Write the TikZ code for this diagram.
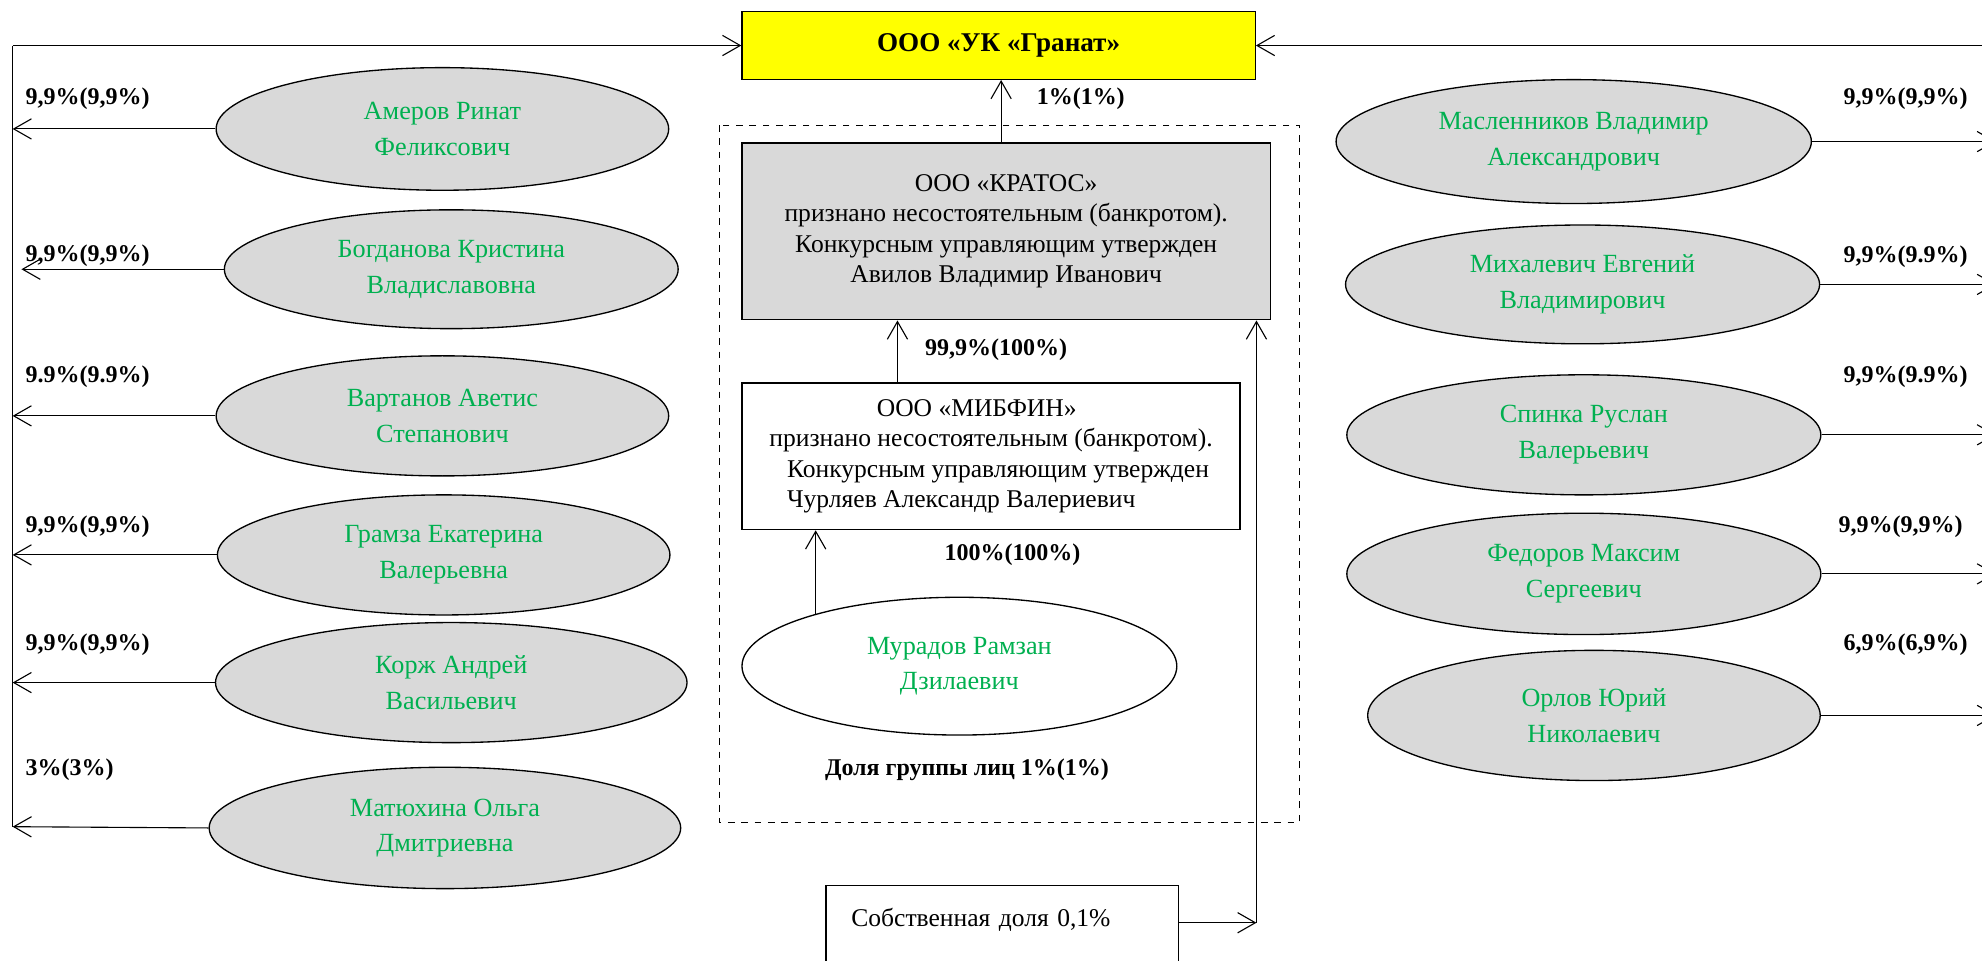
\documentclass[tikz,border=0pt]{standalone}
\usepackage{fontspec}
\setmainfont{Liberation Serif}
\usetikzlibrary{shapes.geometric,arrows.meta}
\definecolor{grgreen}{RGB}{0,176,80}
\definecolor{grgray}{RGB}{217,217,217}
\definecolor{gryellow}{RGB}{255,255,0}
\tikzset{
  person/.style={ellipse, draw, fill=grgray, text=grgreen, align=center, inner sep=0pt,
    line width=0.6pt, font=\fontsize{11.8}{16}\selectfont},
  firm/.style={rectangle, draw, line width=0.6pt, font=\fontsize{11.5}{13.6}\selectfont},
  pct/.style={font=\fontsize{10.8}{13}\selectfont\bfseries, inner sep=0pt},
  arr/.style={-{Straight Barb[length=2.8mm,width=3.2mm]}, line width=0.5pt},
  plain/.style={line width=0.5pt}
}

\begin{document}
\begin{tikzpicture}[x=0.2mm,y=-0.2mm]
        \useasboundingbox (0,0) rectangle (1568,760);
        \clip (0,0) rectangle (1568,760);

        % management company
        \node[firm, fill=gryellow, minimum width=8.12cm, minimum height=1.07cm,
              font=\fontsize{12.2}{14}\selectfont\bfseries] (uk) at (790,36) {ООО «УК «Гранат»};

        \coordinate (tl) at (10,36);
        \coordinate (bl) at (10,654);
        \coordinate (tr) at (1579,36);
        \coordinate (br) at (1579,562);
        \draw[plain] (bl) -- (tl);
        \draw[arr] (tl) -- (uk.west);
        \draw[plain] (br) -- (tr);
        \draw[arr] (tr) -- (uk.east);

        % left shareholders
        \node[person, minimum width=7.16cm, minimum height=1.94cm] (amerov) at (350,102) {Амеров Ринат\\Феликсович};
        \node[person, minimum width=7.18cm, minimum height=1.88cm] (bogdanova) at (357,213) {Богданова Кристина\\Владиславовна};
        \node[person, minimum width=7.16cm, minimum height=1.90cm] (vartanov) at (350,329) {Вартанов Аветис\\Степанович};
        \node[person, minimum width=7.16cm, minimum height=1.90cm] (gramza) at (351,439) {Грамза Екатерина\\Валерьевна};
        \node[person, minimum width=7.46cm, minimum height=1.90cm] (korzh) at (357,540) {Корж Андрей\\Васильевич};
        \node[person, minimum width=7.46cm, minimum height=1.92cm] (matyuhina) at (352,655) {Матюхина Ольга\\Дмитриевна};

        \coordinate (bogtip) at (17,213);
        \draw[arr] (amerov.west) -- (amerov.west -| tl);
        \draw[arr] (bogdanova.west) -- (bogtip);
        \draw[arr] (vartanov.west) -- (vartanov.west -| tl);
        \draw[arr] (gramza.west) -- (gramza.west -| tl);
        \draw[arr] (korzh.west) -- (korzh.west -| tl);
        \draw[arr] (matyuhina.west) -- (bl);

        \node[pct, anchor=west] at (20,78) {9,9\%(9,9\%)};
        \node[pct, anchor=west] at (20,202) {9,9\%(9,9\%)};
        \node[pct, anchor=west] at (20,298) {9.9\%(9.9\%)};
        \node[pct, anchor=west] at (20,417) {9,9\%(9,9\%)};
        \node[pct, anchor=west] at (20,510) {9,9\%(9,9\%)};
        \node[pct, anchor=west] at (20,609) {3\%(3\%)};

        % right shareholders
        \node[person, minimum width=7.52cm, minimum height=1.96cm] (maslennikov) at (1245,112) {Масленников Владимир\\Александрович};
        \node[person, minimum width=7.50cm, minimum height=1.88cm] (mihalevich) at (1252,225) {Михалевич Евгений\\Владимирович};
        \node[person, minimum width=7.50cm, minimum height=1.90cm] (spinka) at (1253,344) {Спинка Руслан\\Валерьевич};
        \node[person, minimum width=7.50cm, minimum height=1.92cm] (fedorov) at (1253,454) {Федоров Максим\\Сергеевич};
        \node[person, minimum width=7.16cm, minimum height=2.06cm] (orlov) at (1261,566) {Орлов Юрий\\Николаевич};

        \draw[arr] (maslennikov.east) -- (maslennikov.east -| tr);
        \draw[arr] (mihalevich.east) -- (mihalevich.east -| tr);
        \draw[arr] (spinka.east) -- (spinka.east -| tr);
        \draw[arr] (fedorov.east) -- (fedorov.east -| tr);
        \draw[arr] (orlov.east) -- (orlov.east -| tr);

        \node[pct, anchor=east] at (1557,78) {9,9\%(9,9\%)};
        \node[pct, anchor=east] at (1557,203) {9,9\%(9.9\%)};
        \node[pct, anchor=east] at (1557,298) {9,9\%(9.9\%)};
        \node[pct, anchor=east] at (1553,417) {9,9\%(9,9\%)};
        \node[pct, anchor=east] at (1557,510) {6,9\%(6,9\%)};

        % group of persons
        \draw[plain, dashed] (569,99) rectangle (1028,651);
        \node[firm, fill=grgray, minimum width=8.36cm, minimum height=2.8cm, align=center] (kratos) at (796,183)
            {ООО «КРАТОС»\\признано несостоятельным (банкротом).\\Конкурсным управляющим утвержден\\Авилов Владимир Иванович};
        \node[firm, fill=white, minimum width=7.88cm, minimum height=2.32cm, align=left] (mibfin) at (784,361)
            {\hspace*{1.7cm}ООО «МИБФИН»\\признано несостоятельным (банкротом).\\\hspace*{0.28cm}Конкурсным управляющим утвержден\\\hspace*{0.28cm}Чурляев Александр Валериевич};
        \node[person, fill=white, minimum width=6.88cm, minimum height=2.18cm] (muradov) at (759,527) {Мурадов Рамзан\\Дзилаевич};
        \node[firm, anchor=north west, minimum width=5.58cm, minimum height=1.8cm, text depth=0.8cm,
              inner xsep=0.4cm, text width=4.78cm, align=left] (own) at (653,700) {Собственная доля 0,1\%};

        \coordinate (kup) at ([xshift=-0.08cm]kratos.north);
        \coordinate (mup) at ([xshift=-1.48cm]mibfin.north);
        \coordinate (cr) at (994,730);
        \draw[arr] (kup) -- (kup |- uk.south);
        \draw[arr] (mup) -- (mup |- kratos.south);
        \draw[arr] (muradov.160) -- (muradov.160 |- mibfin.south);
        \draw[arr] (own.east |- cr) -- (cr);
        \draw[arr] (cr) -- (cr |- kratos.south);

        \node[pct] at (855,78) {1\%(1\%)};
        \node[pct] at (788,277) {99,9\%(100\%)};
        \node[pct] at (801,439) {100\%(100\%)};
        \node[pct] at (765,609) {Доля группы лиц 1\%(1\%)};
    \end{tikzpicture}
\end{document}
